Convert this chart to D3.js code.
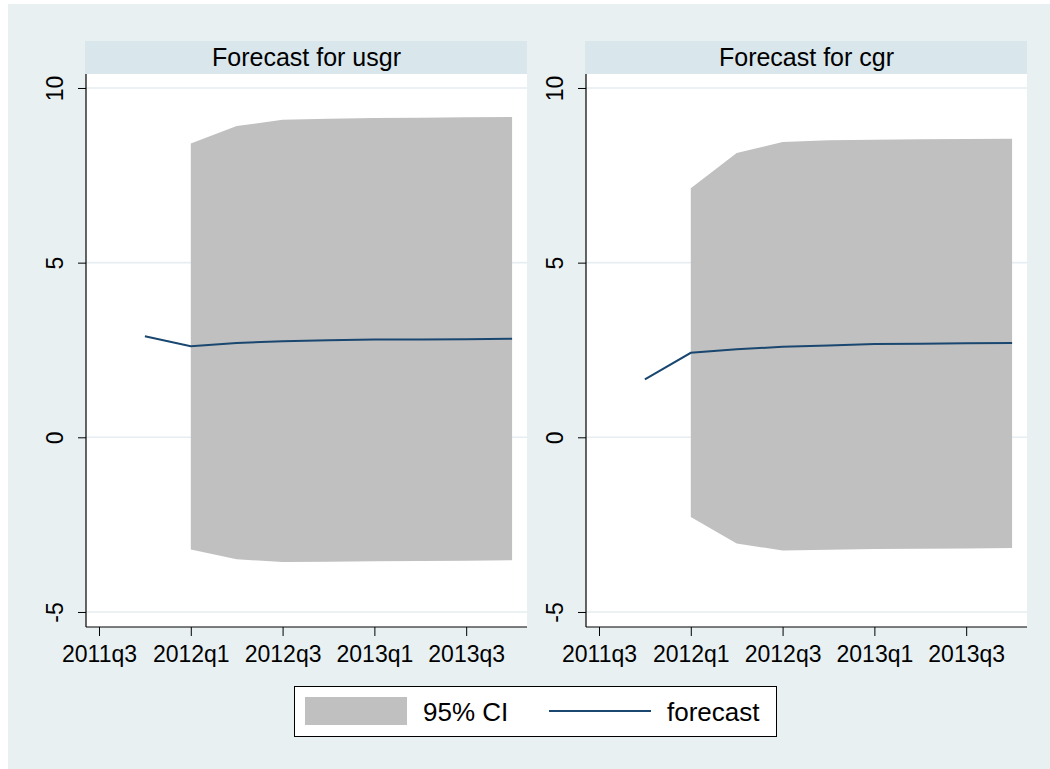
<!DOCTYPE html>
<html><head><meta charset="utf-8">
<script src="https://cdn.jsdelivr.net/npm/d3@7"></script>
<style>body{margin:0;background:#fff}svg{display:block;font-family:"Liberation Sans",Arial,sans-serif}</style>
</head><body><svg id="c" width="1050" height="769"></svg>
<script>
const periods = ["2011q4","2012q1","2012q2","2012q3","2012q4","2013q1","2013q2","2013q3","2013q4"];
const ciPeriods = ["2012q1","2012q2","2012q3","2012q4","2013q1","2013q2","2013q3","2013q4"];
const xTickLabels = ["2011q3","2012q1","2012q3","2013q1","2013q3"];
const yTicks = [-5, 0, 5, 10];
const panelTitles = ["Forecast for usgr", "Forecast for cgr"];
const usgrForecast = [2.89, 2.61, 2.70, 2.75, 2.78, 2.80, 2.80, 2.81, 2.82];
const usgrLower = [-3.21, -3.49, -3.57, -3.56, -3.55, -3.54, -3.53, -3.52];
const usgrUpper = [8.41, 8.91, 9.09, 9.12, 9.14, 9.15, 9.16, 9.17];
const cgrForecast = [1.66, 2.42, 2.52, 2.59, 2.63, 2.67, 2.68, 2.69, 2.70];
const cgrLower = [-2.28, -3.04, -3.24, -3.22, -3.20, -3.19, -3.18, -3.17];
const cgrUpper = [7.13, 8.14, 8.45, 8.50, 8.52, 8.53, 8.54, 8.55];
const legendLabels = ["95% CI", "forecast"];

const qnum = s => +s.slice(0,4)*4 + (+s.slice(5)) - 1;
const svg = d3.select("#c");
svg.append("rect").attr("x",8).attr("y",4).attr("width",1042).attr("height",765).attr("fill","#e8f0f2");

const panels = [
  {title: panelTitles[0], f: usgrForecast, lo: usgrLower, hi: usgrUpper, x0: 86},
  {title: panelTitles[1], f: cgrForecast, lo: cgrLower, hi: cgrUpper, x0: 586}
];
const PW = 441, PT = 74, PB = 627;
const qFirst = qnum(xTickLabels[0]), qLast = qnum(periods[periods.length-1]);

panels.forEach(p => {
  const g = svg.append("g");
  const x = d3.scaleLinear().domain([qFirst - 0.283, qLast + 0.325]).range([p.x0, p.x0 + PW]);
  const y = d3.scaleLinear().domain([-5.43, 10.4]).range([PB, PT]);
  g.append("rect").attr("x", p.x0 - 1).attr("y", 41).attr("width", PW + 1).attr("height", PT - 41).attr("fill", "#d9e6eb");
  g.append("text").attr("x", p.x0 + PW/2).attr("y", 66).attr("text-anchor","middle")
    .attr("font-size", 25).attr("fill","#000").text(p.title);
  g.append("rect").attr("x", p.x0).attr("y", PT).attr("width", PW).attr("height", PB - PT).attr("fill", "#fff");
  g.selectAll(".grid").data(yTicks).join("line")
    .attr("x1", p.x0).attr("x2", p.x0 + PW).attr("y1", d => y(d)).attr("y2", d => y(d))
    .attr("stroke", "#e6eef1").attr("stroke-width", 1.6);
  const ci = ciPeriods.map((s, i) => ({q: qnum(s), lo: p.lo[i], hi: p.hi[i]}));
  g.append("path").datum(ci)
    .attr("d", d3.area().x(d => x(d.q)).y0(d => y(d.lo)).y1(d => y(d.hi)))
    .attr("fill", "#c0c0c0");
  const fl = periods.map((s, i) => ({q: qnum(s), v: p.f[i]}));
  g.append("path").datum(fl)
    .attr("d", d3.line().x(d => x(d.q)).y(d => y(d.v)))
    .attr("fill", "none").attr("stroke", "#1a476f").attr("stroke-width", 2);
  const ya = g.append("g").attr("transform", `translate(${p.x0},0)`)
    .call(d3.axisLeft(y).tickValues(yTicks).tickSize(8).tickFormat(d => String(d)));
  ya.select(".domain").attr("d", `M0,${PT}V${PB}`).attr("stroke","#000");
  ya.selectAll(".tick line").attr("stroke","#000");
  ya.selectAll(".tick text").attr("font-size", 23).attr("fill","#000")
    .attr("x", null).attr("dy", null).attr("text-anchor","middle")
    .attr("transform", "translate(-23,0) rotate(-90)");
  const xa = g.append("g").attr("transform", `translate(0,${PB})`)
    .call(d3.axisBottom(x).tickValues(xTickLabels.map(qnum)).tickSize(9).tickFormat((d,i) => xTickLabels[i]));
  xa.select(".domain").attr("d", `M${p.x0},0H${p.x0 + PW}`).attr("stroke","#000");
  xa.selectAll(".tick line").attr("stroke","#000");
  xa.selectAll(".tick text").attr("font-size", 23).attr("fill","#000").attr("dy", null).attr("y", 35);
  svg.selectAll(".domain").attr("stroke-width", 1.2);
});

const lg = svg.append("g");
lg.append("rect").attr("x", 294.5).attr("y", 686.5).attr("width", 482).attr("height", 50)
  .attr("fill", "#fff").attr("stroke", "#000").attr("stroke-width", 1);
lg.append("rect").attr("x", 305).attr("y", 697).attr("width", 102).attr("height", 28).attr("fill", "#c0c0c0");
lg.append("text").attr("x", 423).attr("y", 721).attr("font-size", 26).attr("fill","#000").text(legendLabels[0]);
lg.append("line").attr("x1", 549).attr("x2", 651).attr("y1", 711).attr("y2", 711)
  .attr("stroke", "#1a476f").attr("stroke-width", 2);
lg.append("text").attr("x", 667).attr("y", 721).attr("font-size", 26).attr("fill","#000").text(legendLabels[1]);
</script></body></html>
